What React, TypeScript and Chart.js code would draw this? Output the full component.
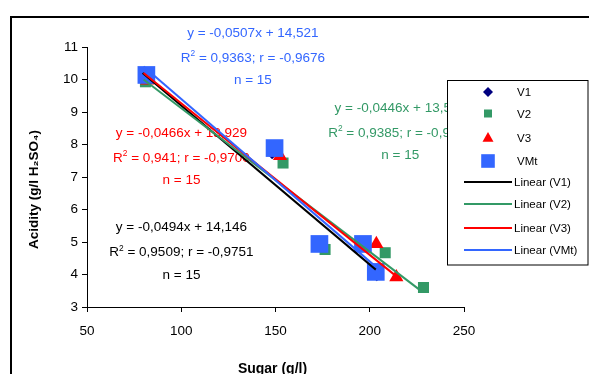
import React, { useEffect, useRef } from 'react';
import { Chart, registerables } from 'chart.js';

Chart.register(...registerables);

const FONT = '"Liberation Sans", Arial, sans-serif';

// Axis ticks
const xTickValues = [50, 100, 150, 200, 250];
const yTickValues = [3, 4, 5, 6, 7, 8, 9, 10, 11];

// Scatter series (Sugar g/l, Acidity g/l H2SO4)
const v1Points = [
  { x: 80.0, y: 10.1 },
  { x: 148.2, y: 7.7 },
  { x: 173.5, y: 4.95 },
  { x: 196.2, y: 4.95 },
  { x: 203.7, y: 3.95 },
];
const v2Points = [
  { x: 81.0, y: 9.93 },
  { x: 154.0, y: 7.43 },
  { x: 176.3, y: 4.77 },
  { x: 208.2, y: 4.67 },
  { x: 228.5, y: 3.6 },
];
const v3Points = [
  { x: 82.0, y: 9.97 },
  { x: 152.4, y: 7.65 },
  { x: 203.5, y: 4.94 },
  { x: 214.1, y: 3.92 },
];
const vmtPoints = [
  { x: 81.5, y: 10.14 },
  { x: 149.5, y: 7.89 },
  { x: 173.3, y: 4.94 },
  { x: 196.4, y: 4.94 },
  { x: 203.2, y: 4.08 },
];

// Linear trend lines (end points)
const trendV1 = [{ x: 79.5, y: 10.2 }, { x: 203.2, y: 4.15 }];
const trendV2 = [{ x: 80.0, y: 10.0 }, { x: 226.0, y: 3.55 }];
const trendV3 = [{ x: 80.0, y: 10.2 }, { x: 214.0, y: 3.95 }];
const trendVMt = [{ x: 80.0, y: 10.4 }, { x: 203.0, y: 4.25 }];

// Regression texts
const seriesNames = ['V1', 'V2', 'V3', 'VMt'];
const slopes = ['-0,0494', '-0,0446', '-0,0466', '-0,0507'];
const intercepts = ['14,146', '13,583', '13,929', '14,521'];
const r2Values = ['0,9509', '0,9385', '0,941', '0,9363'];
const rValues = ['-0,9751', '-0,9688', '-0,9700', '-0,9676'];
const nValues = [15, 15, 15, 15];
// anchor of each text block in data units (centre x, first line centre y)
const labelAnchorX = [100.1, 216.2, 100.1, 138.0];
const labelAnchorY = [5.48, 9.15, 8.39, 11.46];

const NAVY = '#000080';
const GREEN = '#339966';
const RED = '#FF0000';
const BLUE = '#3366FF';
const seriesColors = [NAVY, GREEN, RED, BLUE];
const textColors = ['#000000', GREEN, RED, BLUE];
const trendColors = ['#000000', GREEN, RED, BLUE];

function drawEqBlock(ctx: CanvasRenderingContext2D, cx: number, y1: number, color: string, i: number) {
  const size = 13.5;
  const main = `${size}px ${FONT}`;
  const sup = `${size * 0.62}px ${FONT}`;
  ctx.save();
  ctx.fillStyle = color;
  ctx.textBaseline = 'alphabetic';
  ctx.font = main;
  const base = size * 0.36;
  const l1 = `y = ${slopes[i]}x + ${intercepts[i]}`;
  ctx.textAlign = 'center';
  ctx.fillText(l1, cx, y1 + base);
  const y2 = y1 + 25;
  const rest = ` = ${r2Values[i]}; r = ${rValues[i]}`;
  ctx.font = main;
  const wR = ctx.measureText('R').width;
  const wRest = ctx.measureText(rest).width;
  ctx.font = sup;
  const wSup = ctx.measureText('2').width;
  const total = wR + wSup + wRest;
  let x = cx - total / 2;
  ctx.textAlign = 'left';
  ctx.font = main;
  ctx.fillText('R', x, y2 + base);
  x += wR;
  ctx.font = sup;
  ctx.fillText('2', x, y2 + base - size * 0.42);
  x += wSup;
  ctx.font = main;
  ctx.fillText(rest, x, y2 + base);
  ctx.textAlign = 'center';
  ctx.fillText(`n = ${nValues[i]}`, cx, y1 + 47.5 + base);
  ctx.restore();
}

function drawMarker(ctx: CanvasRenderingContext2D, style: string, x: number, y: number, r: number, color: string) {
  ctx.save();
  ctx.fillStyle = color;
  ctx.beginPath();
  if (style === 'rectRot') {
    ctx.moveTo(x - r, y);
    ctx.lineTo(x, y - r);
    ctx.lineTo(x + r, y);
    ctx.lineTo(x, y + r);
    ctx.closePath();
  } else if (style === 'rect') {
    ctx.rect(x - r, y - r, 2 * r, 2 * r);
  } else if (style === 'triangle') {
    ctx.moveTo(x, y - r * 1.1);
    ctx.lineTo(x + r, y + r * 0.7);
    ctx.lineTo(x - r, y + r * 0.7);
    ctx.closePath();
  }
  ctx.fill();
  ctx.restore();
}

const overlayPlugin = {
  id: 'overlay',
  beforeDraw(chart: any) {
    const ctx: CanvasRenderingContext2D = chart.ctx;
    ctx.save();
    ctx.fillStyle = '#ffffff';
    ctx.fillRect(0, 0, chart.width, chart.height);
    ctx.strokeStyle = '#000000';
    ctx.lineWidth = 2;
    ctx.strokeRect(11, 17, 800, 600);
    ctx.restore();
  },
  beforeDatasetsDraw(chart: any) {
    const ctx: CanvasRenderingContext2D = chart.ctx;
    const xs = chart.scales.x;
    const ys = chart.scales.y;
    for (let i = 0; i < 4; i++) {
      drawEqBlock(ctx, xs.getPixelForValue(labelAnchorX[i]), ys.getPixelForValue(labelAnchorY[i]), textColors[i], i);
    }
  },
  afterDraw(chart: any) {
    const ctx: CanvasRenderingContext2D = chart.ctx;
    // axis titles
    ctx.save();
    ctx.fillStyle = '#000';
    ctx.font = `bold 14px ${FONT}`;
    ctx.textAlign = 'center';
    ctx.textBaseline = 'alphabetic';
    ctx.fillText('Sugar (g/l)', (chart.chartArea.left + chart.chartArea.right) / 2 - 3, 373);
    ctx.translate(38, 189.5);
    ctx.rotate(-Math.PI / 2);
    ctx.font = `bold 13.5px ${FONT}`;
    ctx.fillText('Acidity (g/l H₂SO₄)', 0, 0);
    ctx.restore();

    // legend
    const lx = 447.5, ly = 80.5, lw = 140.5, lh = 184.5;
    ctx.save();
    ctx.fillStyle = '#ffffff';
    ctx.fillRect(lx, ly, lw, lh);
    ctx.strokeStyle = '#000';
    ctx.lineWidth = 1;
    ctx.strokeRect(lx, ly, lw, lh);
    const rows = [92, 113.5, 138, 161, 182, 204, 228, 250];
    const mk = [
      ['rectRot', 5],
      ['rect', 4],
      ['triangle', 5.5],
      ['rect', 6.8],
    ] as const;
    ctx.font = `11.5px ${FONT}`;
    ctx.textAlign = 'left';
    ctx.textBaseline = 'middle';
    for (let i = 0; i < 4; i++) {
      drawMarker(ctx, mk[i][0], 488, rows[i], mk[i][1], seriesColors[i]);
      ctx.fillStyle = '#000';
      ctx.fillText(seriesNames[i], 517, rows[i] + 1);
    }
    for (let i = 0; i < 4; i++) {
      const y = rows[4 + i];
      ctx.strokeStyle = trendColors[i];
      ctx.lineWidth = 2;
      ctx.beginPath();
      ctx.moveTo(464, y);
      ctx.lineTo(512, y);
      ctx.stroke();
      ctx.fillStyle = '#000';
      ctx.fillText(`Linear (${seriesNames[i]})`, 514, y + 1);
    }
    ctx.restore();
  },
};

export default function App() {
  const ref = useRef<HTMLCanvasElement>(null);
  useEffect(() => {
    if (!ref.current) return;
    const pt = (data: any[], style: string, r: number, color: string, order: number) => ({
      type: 'scatter' as const,
      data,
      showLine: false,
      pointStyle: style,
      pointRadius: r,
      pointHoverRadius: r,
      pointBackgroundColor: color,
      pointBorderColor: color,
      pointBorderWidth: 0,
      order,
    });
    const ln = (data: any[], color: string, order: number) => ({
      type: 'scatter' as const,
      data,
      showLine: true,
      borderColor: color,
      borderWidth: 2,
      pointRadius: 0,
      pointHoverRadius: 0,
      fill: false,
      order,
    });
    const axisCommon = {
      type: 'linear' as const,
      grid: {
        display: true,
        drawOnChartArea: false,
        drawTicks: true,
        tickLength: 5,
        color: '#000',
        lineWidth: 1,
      },
      border: { display: true, color: '#000', width: 1 },
    };
    const chart = new Chart(ref.current, {
      type: 'scatter',
      data: {
        datasets: [
          pt(v2Points, 'rect', 7.8, GREEN, 8),
          pt(v1Points, 'rectRot', 5, NAVY, 7),
          pt(v3Points, 'triangle', 8.2, RED, 6),
          pt(vmtPoints, 'rect', 12.5, BLUE, 5),
          ln(trendV1, '#000000', 4),
          ln(trendV2, GREEN, 3),
          ln(trendV3, RED, 2),
          ln(trendVMt, BLUE, 1),
        ] as any,
      },
      options: {
        responsive: false,
        animation: false,
        devicePixelRatio: 1,
        layout: { padding: { left: 0, right: 125, top: 47, bottom: 0 } },
        plugins: { legend: { display: false }, tooltip: { enabled: false } },
        events: [],
        scales: {
          x: {
            ...axisCommon,
            min: xTickValues[0],
            max: xTickValues[xTickValues.length - 1],
            afterBuildTicks: (s: any) => {
              s.ticks = xTickValues.map((v) => ({ value: v }));
            },
            ticks: { color: '#000', font: { family: FONT, size: 13.5 }, padding: 11, maxRotation: 0 },
            afterFit: (s: any) => {
              s.height = 67;
            },
          },
          y: {
            ...axisCommon,
            min: yTickValues[0],
            max: yTickValues[yTickValues.length - 1],
            afterBuildTicks: (s: any) => {
              s.ticks = yTickValues.map((v) => ({ value: v }));
            },
            ticks: { color: '#000', font: { family: FONT, size: 13.5 }, padding: 4 },
            afterFit: (s: any) => {
              s.width = 87;
            },
          },
        },
      },
      plugins: [overlayPlugin],
    });
    return () => chart.destroy();
  }, []);
  return (
    <div style={{ position: 'absolute', left: 0, top: 0, width: 589, height: 374 }}>
      <canvas ref={ref} width={589} height={374} style={{ width: 589, height: 374, display: 'block' }} />
    </div>
  );
}
